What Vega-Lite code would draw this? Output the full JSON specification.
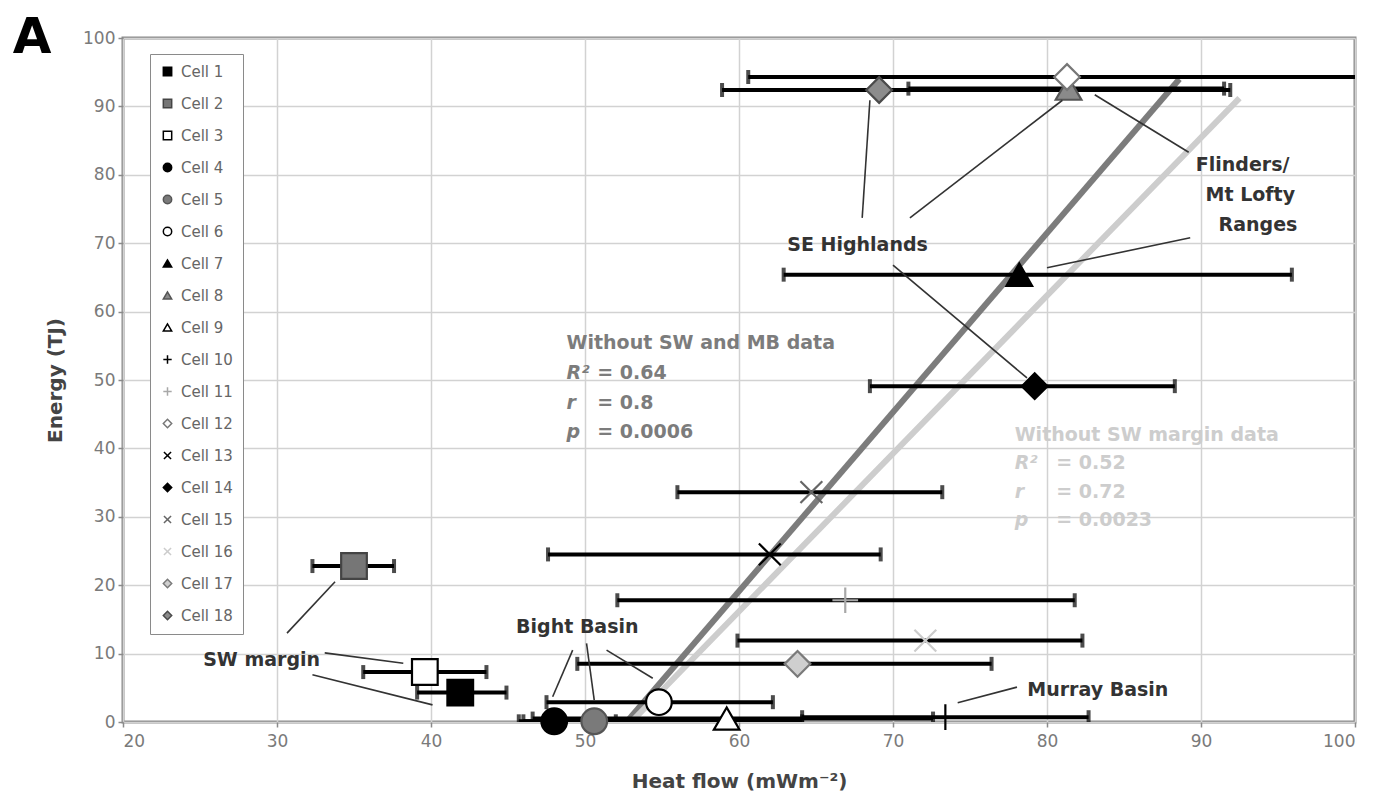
{
  "$schema": "https://vega.github.io/schema/vega-lite/v6.json",
  "autosize": {"type": "none"},
  "width": 1232,
  "height": 684,
  "padding": {"left": 123, "top": 38, "right": 25, "bottom": 81},
  "background": "white",
  "config": {
    "font": "DejaVu Sans",
    "view": {"stroke": "#8a8a8a", "strokeWidth": 3},
    "axis": {
      "grid": true, "gridColor": "#d2d2d2", "gridWidth": 1.5, "domain": false,
      "tickColor": "#8a8a8a", "tickSize": 5, "tickWidth": 1.5,
      "labelFont": "DejaVu Sans", "labelFontSize": 17, "labelColor": "#7a7a7a",
      "titleFont": "DejaVu Sans", "titleFontSize": 20, "titleFontWeight": "bold", "titleColor": "#444444"
    },
    "legend": {
      "orient": "none", "legendX": 27, "legendY": 16, "title": null,
      "fillColor": "white", "strokeColor": "#8a8a8a", "padding": 10,
      "labelFont": "DejaVu Sans", "labelFontSize": 15, "labelColor": "#666666",
      "symbolSize": 70, "symbolStrokeWidth": 1.5, "rowPadding": 16, "labelOffset": 6
    }
  },
  "datasets": {
    "cells": [
      {"cell": "Cell 1", "hf": 41.9, "en": 4.3, "lo": 39.1, "hi": 44.9},
      {"cell": "Cell 2", "hf": 35.0, "en": 22.8, "lo": 32.3, "hi": 37.6},
      {"cell": "Cell 3", "hf": 39.6, "en": 7.3, "lo": 35.6, "hi": 43.6},
      {"cell": "Cell 4", "hf": 48.0, "en": 0.1, "lo": 46.0, "hi": 52.0},
      {"cell": "Cell 5", "hf": 50.6, "en": 0.1, "lo": 45.7, "hi": 64.1},
      {"cell": "Cell 6", "hf": 54.8, "en": 2.9, "lo": 47.5, "hi": 62.2},
      {"cell": "Cell 7", "hf": 78.2, "en": 65.4, "lo": 62.9, "hi": 95.9},
      {"cell": "Cell 8", "hf": 81.4, "en": 92.6, "lo": 71.0, "hi": 91.5},
      {"cell": "Cell 9", "hf": 59.2, "en": 0.5, "lo": 46.6, "hi": 72.6},
      {"cell": "Cell 10", "hf": 73.4, "en": 0.7, "lo": 64.1, "hi": 82.7},
      {"cell": "Cell 11", "hf": 66.9, "en": 17.8, "lo": 52.1, "hi": 81.8},
      {"cell": "Cell 12", "hf": 81.3, "en": 94.3, "lo": 60.6, "hi": 105},
      {"cell": "Cell 13", "hf": 62.0, "en": 24.5, "lo": 47.6, "hi": 69.2},
      {"cell": "Cell 14", "hf": 79.2, "en": 49.1, "lo": 68.5, "hi": 88.3},
      {"cell": "Cell 15", "hf": 64.7, "en": 33.6, "lo": 56.0, "hi": 73.2},
      {"cell": "Cell 16", "hf": 72.1, "en": 11.9, "lo": 59.9, "hi": 82.3},
      {"cell": "Cell 17", "hf": 63.8, "en": 8.5, "lo": 49.5, "hi": 76.4},
      {"cell": "Cell 18", "hf": 69.1, "en": 92.4, "lo": 58.9, "hi": 91.9}
    ],
    "fits": [
      {"fit": "Without SW and MB data", "hf": 52.7, "en": 0},
      {"fit": "Without SW and MB data", "hf": 88.6, "en": 94.0},
      {"fit": "Without SW margin data", "hf": 53.0, "en": 0},
      {"fit": "Without SW margin data", "hf": 92.5, "en": 91.2}
    ],
    "leaders": [
      {"x": 30.65, "y": 13.0, "x2": 33.77, "y2": 20.5},
      {"x": 33.1, "y": 10.1, "x2": 38.2, "y2": 8.6},
      {"x": 32.3, "y": 6.9, "x2": 40.1, "y2": 2.5},
      {"x": 49.2, "y": 10.5, "x2": 47.9, "y2": 3.7},
      {"x": 50.1, "y": 11.5, "x2": 50.6, "y2": 3.2},
      {"x": 51.4, "y": 10.5, "x2": 54.4, "y2": 6.4},
      {"x": 74.2, "y": 2.8, "x2": 78.05, "y2": 5.1},
      {"x": 68.0, "y": 73.7, "x2": 68.5, "y2": 90.9},
      {"x": 71.1, "y": 73.7, "x2": 81.0, "y2": 90.9},
      {"x": 70.0, "y": 66.8, "x2": 78.7, "y2": 50.3},
      {"x": 89.2, "y": 83.3, "x2": 83.1, "y2": 91.7},
      {"x": 89.3, "y": 70.8, "x2": 80.0, "y2": 66.4}
    ],
    "labels": [
      {"t": "SW margin", "hf": 29.0, "en": 9.1},
      {"t": "Bight Basin", "hf": 49.5, "en": 13.9},
      {"t": "Murray Basin", "hf": 83.3, "en": 4.7},
      {"t": "SE Highlands", "hf": 67.7, "en": 69.7},
      {"t": "Flinders/", "hf": 92.7, "en": 81.4},
      {"t": "Mt Lofty", "hf": 93.2, "en": 77.0},
      {"t": "Ranges", "hf": 93.7, "en": 72.7}
    ],
    "statsPlain": [
      {"grp": "a", "hf": 48.8, "en": 55.4, "t": "Without SW and MB data"},
      {"grp": "a", "hf": 50.8, "en": 51.0, "t": "= 0.64"},
      {"grp": "a", "hf": 50.8, "en": 46.6, "t": "= 0.8"},
      {"grp": "a", "hf": 50.8, "en": 42.4, "t": "= 0.0006"},
      {"grp": "b", "hf": 77.9, "en": 42.0, "t": "Without SW margin data"},
      {"grp": "b", "hf": 80.6, "en": 37.9, "t": "= 0.52"},
      {"grp": "b", "hf": 80.6, "en": 33.6, "t": "=  0.72"},
      {"grp": "b", "hf": 80.6, "en": 29.5, "t": "=  0.0023"}
    ],
    "statsItalic": [
      {"grp": "a", "hf": 48.8, "en": 51.0, "t": "R²"},
      {"grp": "a", "hf": 48.8, "en": 46.6, "t": "r"},
      {"grp": "a", "hf": 48.8, "en": 42.4, "t": "p"},
      {"grp": "b", "hf": 77.9, "en": 37.9, "t": "R²"},
      {"grp": "b", "hf": 77.9, "en": 33.6, "t": "r"},
      {"grp": "b", "hf": 77.9, "en": 29.5, "t": "p"}
    ],
    "panel": [{"t": "A", "hf": 14.1, "en": 100.0}]
  },
  "layer": [
    {
      "data": {"name": "fits"},
      "mark": {"type": "line", "strokeWidth": 6, "clip": true},
      "encoding": {
        "x": {"field": "hf", "type": "quantitative", "scale": {"domain": [20, 100], "nice": false, "zero": false},
              "axis": {"values": [20, 30, 40, 50, 60, 70, 80, 90, 100], "title": "Heat flow (mWm⁻²)", "labelPadding": 6, "titlePadding": 22}},
        "y": {"field": "en", "type": "quantitative", "scale": {"domain": [0, 100], "nice": false},
              "axis": {"values": [0, 10, 20, 30, 40, 50, 60, 70, 80, 90, 100], "title": "Energy (TJ)", "labelPadding": 3, "titlePadding": 17}},
        "color": {"field": "fit", "type": "nominal", "scale": {"domain": ["Without SW and MB data", "Without SW margin data"], "range": ["#7c7c7c", "#cdcdcd"]}, "legend": null},
        "detail": {"field": "fit"}
      }
    },
    {
      "data": {"name": "cells"},
      "mark": {"type": "rule", "color": "black", "strokeWidth": 4, "clip": true},
      "encoding": {
        "x": {"field": "lo", "type": "quantitative"},
        "x2": {"field": "hi"},
        "y": {"field": "en", "type": "quantitative"}
      }
    },
    {
      "data": {"name": "cells"},
      "mark": {"type": "tick", "orient": "vertical", "color": "black", "size": 14, "thickness": 4, "clip": true},
      "encoding": {
        "x": {"field": "lo", "type": "quantitative"},
        "y": {"field": "en", "type": "quantitative"}
      }
    },
    {
      "data": {"name": "cells"},
      "mark": {"type": "tick", "orient": "vertical", "color": "black", "size": 14, "thickness": 4, "clip": true},
      "encoding": {
        "x": {"field": "hi", "type": "quantitative"},
        "y": {"field": "en", "type": "quantitative"}
      }
    },
    {
      "data": {"name": "cells"},
      "mark": {"type": "point", "size": 660, "strokeWidth": 2.2, "opacity": 1},
      "encoding": {
        "x": {"field": "hf", "type": "quantitative"},
        "y": {"field": "en", "type": "quantitative"},
        "shape": {"field": "cell", "type": "nominal",
          "scale": {"domain": ["Cell 1","Cell 2","Cell 3","Cell 4","Cell 5","Cell 6","Cell 7","Cell 8","Cell 9","Cell 10","Cell 11","Cell 12","Cell 13","Cell 14","Cell 15","Cell 16","Cell 17","Cell 18"],
            "range": ["square","square","square","circle","circle","circle","triangle-up","triangle-up","triangle-up","M-1,0L1,0M0,-1L0,1","M-1,0L1,0M0,-1L0,1","diamond","M-0.85,-0.85L0.85,0.85M-0.85,0.85L0.85,-0.85","diamond","M-0.85,-0.85L0.85,0.85M-0.85,0.85L0.85,-0.85","M-0.85,-0.85L0.85,0.85M-0.85,0.85L0.85,-0.85","diamond","diamond"]},
          "legend": {"orient": "none", "legendX": 27, "legendY": 16, "title": null}},
        "fill": {"field": "cell", "type": "nominal",
          "scale": {"domain": ["Cell 1","Cell 2","Cell 3","Cell 4","Cell 5","Cell 6","Cell 7","Cell 8","Cell 9","Cell 10","Cell 11","Cell 12","Cell 13","Cell 14","Cell 15","Cell 16","Cell 17","Cell 18"],
            "range": ["#000000","#767676","#ffffff","#000000","#7a7a7a","#ffffff","#000000","#8a8a8a","#ffffff","#000000","#a8a8a8","#ffffff","#000000","#000000","#777777","#cccccc","#cfcfcf","#8c8c8c"]}},
        "stroke": {"field": "cell", "type": "nominal",
          "scale": {"domain": ["Cell 1","Cell 2","Cell 3","Cell 4","Cell 5","Cell 6","Cell 7","Cell 8","Cell 9","Cell 10","Cell 11","Cell 12","Cell 13","Cell 14","Cell 15","Cell 16","Cell 17","Cell 18"],
            "range": ["#000000","#444444","#000000","#000000","#555555","#000000","#000000","#555555","#000000","#000000","#a8a8a8","#777777","#000000","#000000","#666666","#cccccc","#7a7a7a","#4a4a4a"]}}
      }
    },
    {
      "data": {"name": "leaders"},
      "mark": {"type": "rule", "color": "#333333", "strokeWidth": 1.6},
      "encoding": {
        "x": {"field": "x", "type": "quantitative"},
        "y": {"field": "y", "type": "quantitative"},
        "x2": {"field": "x2"},
        "y2": {"field": "y2"}
      }
    },
    {
      "data": {"name": "labels"},
      "mark": {"type": "text", "font": "DejaVu Sans", "fontSize": 19, "fontWeight": "bold", "color": "#333333", "align": "center", "baseline": "middle"},
      "encoding": {
        "x": {"field": "hf", "type": "quantitative"},
        "y": {"field": "en", "type": "quantitative"},
        "text": {"field": "t"}
      }
    },
    {
      "data": {"name": "statsPlain"},
      "mark": {"type": "text", "font": "DejaVu Sans", "fontSize": 19, "fontWeight": "bold", "align": "left", "baseline": "middle"},
      "encoding": {
        "x": {"field": "hf", "type": "quantitative"},
        "y": {"field": "en", "type": "quantitative"},
        "text": {"field": "t"},
        "color": {"field": "grp", "type": "nominal", "scale": {"domain": ["a", "b"], "range": ["#9a9a9a", "#c4c4c4"]}, "legend": null}
      }
    },
    {
      "data": {"name": "statsItalic"},
      "mark": {"type": "text", "font": "DejaVu Sans", "fontSize": 19, "fontWeight": "bold", "fontStyle": "italic", "align": "left", "baseline": "middle"},
      "encoding": {
        "x": {"field": "hf", "type": "quantitative"},
        "y": {"field": "en", "type": "quantitative"},
        "text": {"field": "t"},
        "color": {"field": "grp", "type": "nominal", "scale": {"domain": ["a", "b"], "range": ["#9a9a9a", "#c4c4c4"]}, "legend": null}
      }
    },
    {
      "data": {"name": "panel"},
      "mark": {"type": "text", "font": "DejaVu Sans", "fontSize": 50, "fontWeight": "bold", "color": "black", "align": "center", "baseline": "middle", "clip": false},
      "encoding": {
        "x": {"field": "hf", "type": "quantitative"},
        "y": {"field": "en", "type": "quantitative"},
        "text": {"field": "t"}
      }
    }
  ]
}
